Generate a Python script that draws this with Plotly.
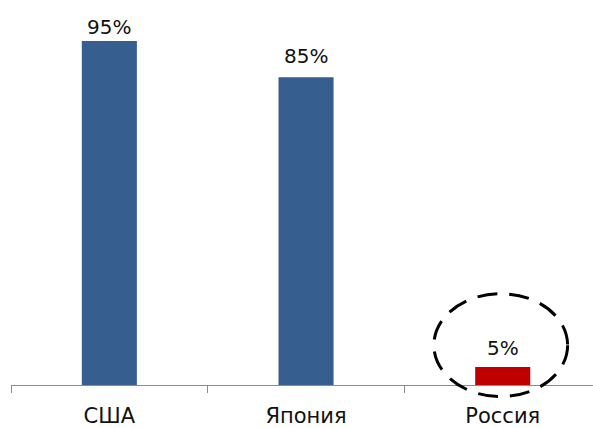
import plotly.graph_objects as go

categories = ["США", "Япония", "Россия"]
values = [95, 85, 5]
bar_colors = ["#365E8F", "#365E8F", "#C00000"]
value_labels = ["95%", "85%", "5%"]

label_shifts = [0, 7, 5]  # pixel offsets of value labels above bars
YMAX = 106.3
ri = categories.index("Россия")

fig = go.Figure(go.Bar(
    x=categories, y=values,
    marker=dict(color=bar_colors, line=dict(width=0)),
    cliponaxis=False,
))

for cat, val, lab, sh in zip(categories, values, value_labels, label_shifts):
    fig.add_annotation(
        x=cat, y=val, text=lab,
        showarrow=False, yanchor="bottom", yshift=sh,
        font=dict(family="DejaVu Sans", size=20, color="#111111"),
    )

# dashed ellipse highlighting Russia (defined around the Russia category/value)
cy = values[ri] + 6.0
hy = 14.2
fig.add_shape(
    type="circle", xref="x", yref="paper",
    x0=ri - 0.35, x1=ri + 0.33,
    y0=(cy - hy) / YMAX, y1=(cy + hy) / YMAX,
    line=dict(color="black", width=3, dash="20px,12px"),
)

fig.update_layout(
    width=593, height=428,
    margin=dict(l=11, r=0, t=0, b=40),
    paper_bgcolor="white", plot_bgcolor="white",
    bargap=0.72, showlegend=False,
    font=dict(family="DejaVu Sans", color="#111111"),
)
fig.update_xaxes(
    range=[-0.5, 2.459], showline=True, linecolor="#8C8C8C", linewidth=1,
    ticks="outside", tickson="boundaries", ticklen=7, tickcolor="#8C8C8C",
    tickfont=dict(family="DejaVu Sans", size=21, color="#111111"),
    ticklabelstandoff=12,
    showgrid=False, zeroline=False,
)
fig.update_yaxes(range=[0, YMAX], visible=False, showgrid=False, zeroline=False)

fig.write_html(
    "out.html",
    config={"displayModeBar": False},
    post_script="document.body.style.margin='0px';document.body.style.overflow='hidden';",
)
